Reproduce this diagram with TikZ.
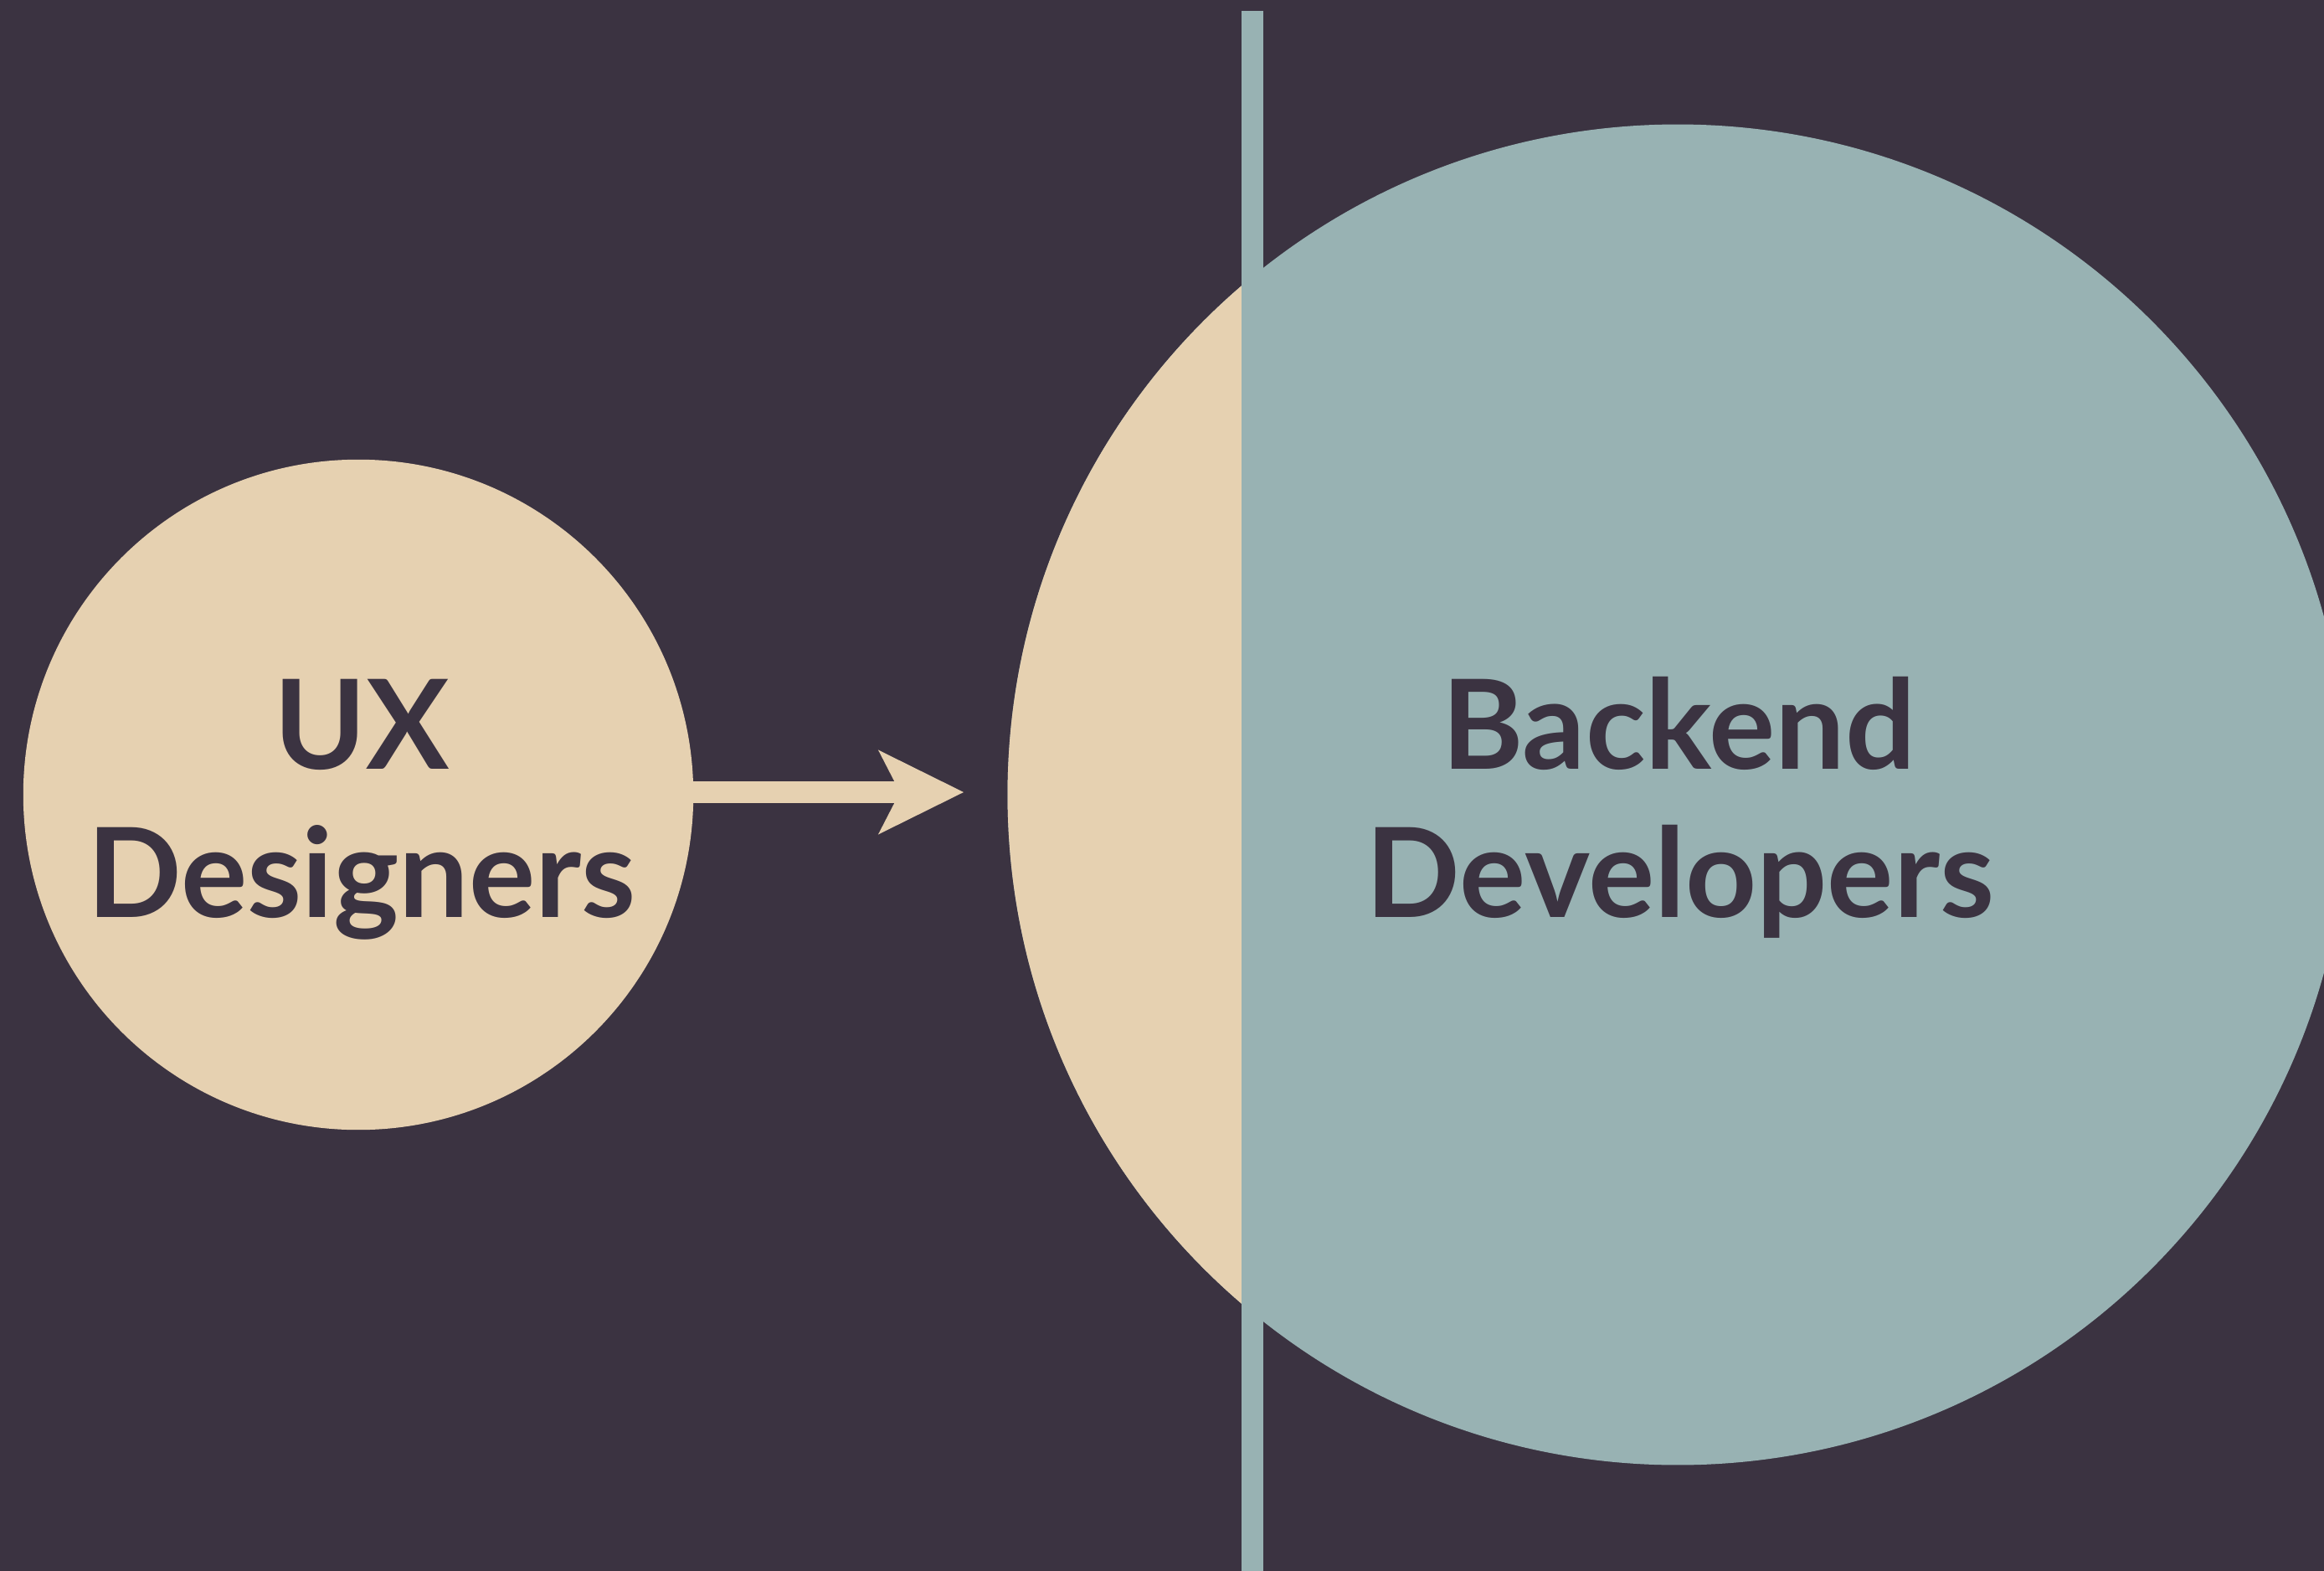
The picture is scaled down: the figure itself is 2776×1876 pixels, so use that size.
\documentclass[tikz,border=0pt]{standalone}
\usepackage{fontspec}
\setmainfont{Lato}
\usetikzlibrary{arrows.meta}

\definecolor{bgdark}{HTML}{3B3341}
\definecolor{sand}{HTML}{E6D1B1}
\definecolor{sage}{HTML}{98B2B3}

\tikzset{
  disc/.style={circle, inner sep=0pt, outer sep=0pt},
  caption/.style={anchor=base, text=bgdark, inner sep=0pt,
    font=\fontsize{42.2pt}{50pt}\selectfont\bfseries},
  flow/.style={sand, line width=0.266cm,
    -{Stealth[length=1.02cm, width=1.01cm, inset=0.26cm, line width=0pt]}}
}

\begin{document}
\begin{tikzpicture}[x=0.01cm, y=-0.01cm]
  % canvas
  \fill[bgdark] (0,0) rectangle (2776,1876);
  \useasboundingbox (0,0) rectangle (2776,1876);

  % small circle
  \node[disc, fill=sand, minimum size=8cm] (ux) at (428,949) {};

  % arrow from the small circle
  \coordinate (tip) at (1151,946);
  \draw[flow] (ux.center |- tip) -- (tip);

  % large circle: sand left of the divider, sage to the right
  \node[disc, fill=sage, minimum size=16cm] (be) at (2004,949) {};
  \begin{scope}
    \clip (0,0) rectangle (1483,1876);
    \fill[sand] (be.center) circle[radius=8cm];
  \end{scope}

  % divider bar
  \fill[sage] (1483,13) rectangle (1509,1876);

  % labels
  \node[caption] (uxa) at (432,918) {UX};
  \node[caption] (uxb) at (432,1095) {Designers};
  \node[caption] (bea) at (2005,918) {Backend};
  \node[caption] (beb) at (2007,1095) {Developers};
\end{tikzpicture}
\end{document}
